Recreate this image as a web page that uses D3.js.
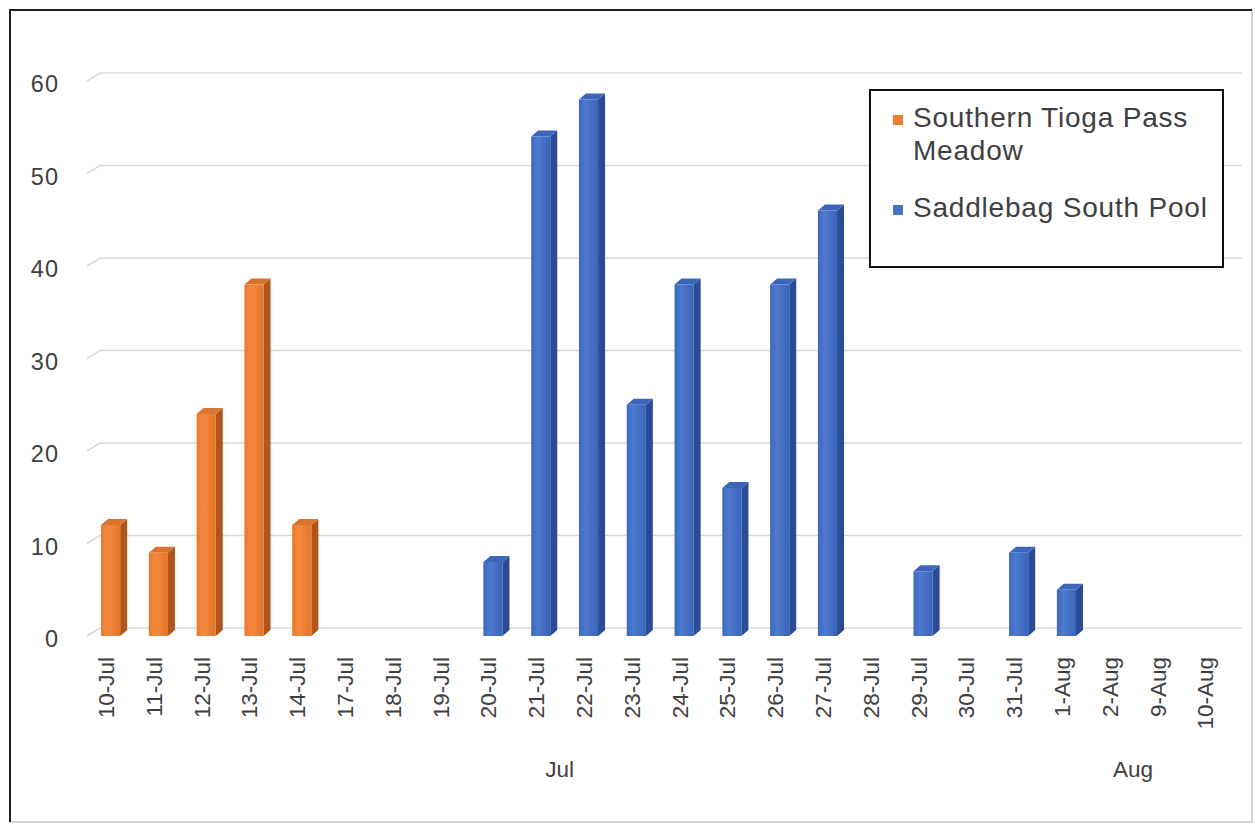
<!DOCTYPE html>
<html>
<head>
<meta charset="utf-8">
<title>Daily counts: Southern Tioga Pass Meadow and Saddlebag South Pool</title>
<script src="https://cdn.jsdelivr.net/npm/d3@7"></script>
<style>
  html, body { margin: 0; padding: 0; background: #ffffff; }
  svg { display: block; }
  text { font-family: "Liberation Sans", Arial, "DejaVu Sans", sans-serif; fill: #404040; }
</style>
</head>
<body>
<svg id="chart" width="1255" height="824"></svg>
<script>
// Survey dates (category axis)
const categories = [
  "10-Jul", "11-Jul", "12-Jul", "13-Jul", "14-Jul", "17-Jul", "18-Jul", "19-Jul",
  "20-Jul", "21-Jul", "22-Jul", "23-Jul", "24-Jul", "25-Jul", "26-Jul", "27-Jul",
  "28-Jul", "29-Jul", "30-Jul", "31-Jul", "1-Aug", "2-Aug", "9-Aug", "10-Aug"
];

// Series values (null = no bar on that date)
const tiogaValues = [
  12, 9, 24, 38, 12, null, null, null,
  null, null, null, null, null, null, null, null,
  null, null, null, null, null, null, null, null
];
const saddlebagValues = [
  null, null, null, null, null, null, null, null,
  8, 54, 58, 25, 38, 16, 38, 46,
  null, 7, null, 9, 5, null, null, null
];

const seriesNames = ["Southern Tioga Pass Meadow", "Saddlebag South Pool"];

// Value axis ticks
const yTicks = [0, 10, 20, 30, 40, 50, 60];

// Month grouping on the category axis
const monthLabels = ["Jul", "Aug"];
const monthFirst = ["10-Jul", "1-Aug"];
const monthLast = ["31-Jul", "10-Aug"];

const svg = d3.select("#chart");

// Scales for the front plane of the 3D columns
const x = d3.scaleBand()
  .domain(categories)
  .range([86.7, 1233.7])
  .paddingInner(0.6)
  .paddingOuter(0.3);

const y = d3.scaleLinear().domain([0, 60]).range([636, 81]);

// Depth offsets: back wall and column depth
const wallDX = 13, wallDY = -8;
const barDX = 7, barDY = -6;

// Gradients for the column faces
const defs = svg.append("defs");
function faceGradient(id, stops) {
  const g = defs.append("linearGradient").attr("id", id)
    .attr("x1", "0%").attr("x2", "100%").attr("y1", "0%").attr("y2", "0%");
  stops.forEach(s => g.append("stop").attr("offset", s[0]).attr("stop-color", s[1]));
}
faceGradient("frontOrange", [["0%", "#E8782C"], ["35%", "#F58A3E"], ["100%", "#E5752A"]]);
faceGradient("frontBlue", [["0%", "#3D68BE"], ["35%", "#4D7BD0"], ["100%", "#3A63B8"]]);

const palette = [
  { front: "url(#frontOrange)", side: "#B25518", top: "#D8742F", key: "#ED7D31" },
  { front: "url(#frontBlue)", side: "#2A4C96", top: "#3D66BA", key: "#4472C4" }
];

// Chart frame: dark top/left edges, faint right/bottom edges
const frame = svg.append("g");
frame.append("path")
  .attr("d", "M1252,10 L1252,822 L10,822")
  .attr("fill", "none").attr("stroke", "#d4d4d4").attr("stroke-width", 2);
frame.append("path")
  .attr("d", "M10,822 L10,10 L1252,10")
  .attr("fill", "none").attr("stroke", "#1e1e1e").attr("stroke-width", 2);

// Gridlines on the back wall, with the short side-wall segment at the left
const grid = svg.append("g");
const gridLeft = 87, gridRight = 1242;
yTicks.forEach(t => {
  const yf = y(t);
  grid.append("path")
    .attr("d", `M${gridLeft},${yf} L${gridLeft + wallDX},${yf + wallDY} L${gridRight},${yf + wallDY}`)
    .attr("fill", "none").attr("stroke", "#d9d9d9").attr("stroke-width", 1.6);
});

// Value axis labels
svg.append("g").selectAll("text")
  .data(yTicks)
  .join("text")
  .attr("x", 59)
  .attr("y", d => y(d) + 3)
  .attr("text-anchor", "end")
  .attr("dominant-baseline", "central")
  .style("font-size", "23.5px")
  .style("letter-spacing", "1px")
  .text(d => d);

// 3D columns
const bw = x.bandwidth();
const y0 = y(0);
[tiogaValues, saddlebagValues].forEach((values, si) => {
  const col = palette[si];
  const data = categories.map((c, i) => ({ c, v: values[i] })).filter(d => d.v != null);
  const g = svg.append("g");
  const bars = g.selectAll("g").data(data).join("g");
  // side face
  bars.append("path")
    .attr("d", d => {
      const x0 = x(d.c) + bw, yt = y(d.v);
      return `M${x0},${yt} L${x0 + barDX},${yt + barDY} L${x0 + barDX},${y0 + barDY} L${x0},${y0} Z`;
    })
    .attr("fill", col.side);
  // top face
  bars.append("path")
    .attr("d", d => {
      const x0 = x(d.c), yt = y(d.v);
      return `M${x0},${yt} L${x0 + barDX},${yt + barDY} L${x0 + bw + barDX},${yt + barDY} L${x0 + bw},${yt} Z`;
    })
    .attr("fill", col.top);
  // front face
  bars.append("rect")
    .attr("x", d => x(d.c))
    .attr("y", d => y(d.v))
    .attr("width", bw)
    .attr("height", d => y0 - y(d.v))
    .attr("fill", col.front);
});

// Category labels (rotated)
svg.append("g").selectAll("text")
  .data(categories)
  .join("text")
  .attr("transform", d => `translate(${x(d) + bw / 2 - 4},657) rotate(-90)`)
  .attr("text-anchor", "end")
  .attr("dominant-baseline", "central")
  .style("font-size", "22.5px")
  .text(d => d);

// Month group labels
svg.append("g").selectAll("text")
  .data(monthLabels)
  .join("text")
  .attr("x", (d, i) => (x(monthFirst[i]) + x(monthLast[i])) / 2 + bw / 2 - 5)
  .attr("y", 777)
  .attr("text-anchor", "middle")
  .style("font-size", "22.5px")
  .text(d => d);

// Legend
const legend = svg.append("g");
legend.append("rect")
  .attr("x", 870).attr("y", 90).attr("width", 353).attr("height", 177)
  .attr("fill", "#ffffff").attr("stroke", "#111111").attr("stroke-width", 2);
const legendRows = [
  { lines: ["Southern Tioga Pass", "Meadow"], y: 127 },
  { lines: ["Saddlebag South Pool"], y: 217 }
];
legendRows.forEach((row, i) => {
  legend.append("rect")
    .attr("x", 893).attr("y", row.y - 12).attr("width", 10).attr("height", 10)
    .attr("fill", palette[i].key);
  const t = legend.append("text")
    .attr("x", 913).attr("y", row.y)
    .style("font-size", "28px")
    .style("letter-spacing", "0.8px");
  row.lines.forEach((ln, j) => {
    t.append("tspan").attr("x", 913).attr("dy", j === 0 ? 0 : 33).text(ln);
  });
});
</script>
</body>
</html>
